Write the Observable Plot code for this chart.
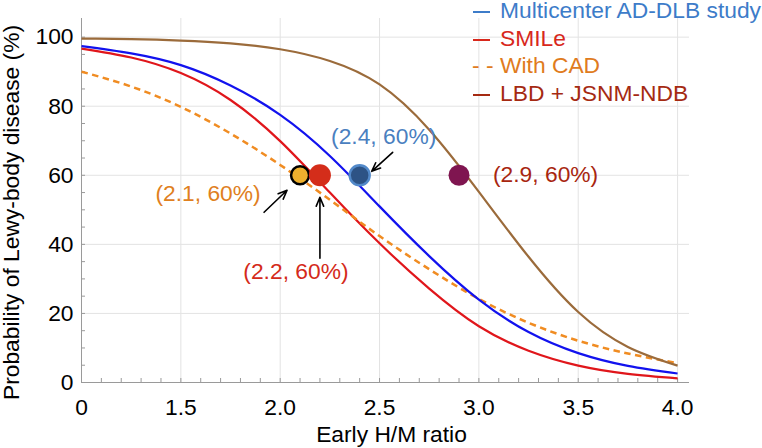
<!DOCTYPE html>
<html>
<head>
<meta charset="utf-8">
<script src="https://cdn.jsdelivr.net/npm/d3@7"></script>
<script src="https://cdn.jsdelivr.net/npm/@observablehq/plot@0.6"></script>
<style>
  html, body { margin: 0; padding: 0; background: #fff; }
  #chart { position: relative; width: 762px; height: 448px; font-family: "Liberation Sans", Arial, Helvetica, sans-serif; }
  #legend { position: absolute; left: 472px; top: -3px; font-size: 22.8px; line-height: 27.6px; white-space: nowrap; }
  #legend .mk { display: inline-block; width: 28px; }
  #legend .ln { display: inline-block; width: 17px; height: 2px; margin-left: 1px; vertical-align: middle; }
</style>
</head>
<body>
<div id="chart"></div>
<script>
// Early H/M ratio at which each curve is sampled (1.0 is shown as "0" on the broken axis)
const hmRatio      = [1.0, 1.25, 1.5, 1.75, 2.0, 2.25, 2.5, 2.75, 3.0, 3.25, 3.5, 3.75, 4.0];
// Probability of Lewy-body disease (%) for each study
const multicenter  = [97.4, 95.3, 91.9, 86.0, 77.5, 65.6, 51.0, 36.6, 24.0, 14.6, 8.5, 4.8, 2.6];
const smile        = [96.7, 94.1, 89.6, 81.8, 69.9, 55.0, 40.3, 27.2, 16.3, 9.2, 4.9, 2.5, 1.2];
const withCad      = [90.0, 85.7, 79.8, 72.1, 63.0, 52.9, 42.4, 32.8, 24.2, 17.3, 12.1, 8.4, 5.6];
const lbdJsnm      = [99.6, 99.4, 99.0, 98.2, 96.5, 93.1, 86.3, 73.2, 55.2, 36.4, 20.4, 10.3, 4.9];

// Cut-off points marked on the curves
const cutoffStudy       = ["With CAD", "SMILe", "Multicenter AD-DLB study", "LBD + JSNM-NDB"];
const cutoffRatio       = [2.1, 2.2, 2.4, 2.9];
const cutoffProbability = [60, 60, 60, 60];

// Axis ticks
const xTickValues = [1, 1.5, 2, 2.5, 3, 3.5, 4];
const xTickLabels = ["0", "1.5", "2.0", "2.5", "3.0", "3.5", "4.0"];
const yTickValues = [0, 20, 40, 60, 80, 100];

// Layout
const W = 762, H = 448;
const margin = {top: 18, right: 73, bottom: 66, left: 81};
const xDomain = [1, 4.06], yDomain = [0, 105.4];
const pxX = (W - margin.left - margin.right) / (xDomain[1] - xDomain[0]);
const pxY = (H - margin.top - margin.bottom) / (yDomain[1] - yDomain[0]);
const FONT = 22.8;

const styles = {
  "Multicenter AD-DLB study": {line: "#1212ee", legend: "#3d7cc9", label: "#4a7fbf", width: 2.2,
    dot: {r: 10, fill: "#2d5385", stroke: "#5289c9", strokeWidth: 2.5},
    label_dx: 24, label_dy: -39, anchor: "middle", arrow: [33, -23, 12, -4]},
  "SMILe": {line: "#e0161b", legend: "#d8281c", label: "#d42a1a", width: 2.2,
    dot: {r: 11, fill: "#d42d1a", stroke: "none", strokeWidth: 0},
    label_dx: -24, label_dy: 96, anchor: "middle", arrow: [0, 83, 0, 22]},
  "With CAD": {line: "#f08c22", legend: "#e07b20", label: "#e0801e", dash: "6.5,4.5", width: 2.5,
    dot: {r: 9, fill: "#eeb02e", stroke: "#000", strokeWidth: 2.5},
    label_dx: -92, label_dy: 18, anchor: "middle", arrow: [-36, 37, -13, 15]},
  "LBD + JSNM-NDB": {line: "#9b6b3b", legend: "#a52a12", label: "#a8260f", width: 2.2,
    dot: {r: 10.5, fill: "#7f1550", stroke: "none", strokeWidth: 0},
    label_dx: 34, label_dy: -1, anchor: "start", arrow: null}
};

const curves = [
  ["SMILe", smile],
  ["With CAD", withCad],
  ["Multicenter AD-DLB study", multicenter],
  ["LBD + JSNM-NDB", lbdJsnm]
];

const cutoffs = cutoffStudy.map((s, i) => ({study: s, x: cutoffRatio[i], y: cutoffProbability[i],
  label: `(${cutoffRatio[i]}, ${cutoffProbability[i]}%)`}));

const xMinor = d3.range(11, 41).map(d => d / 10);
const yMinor = d3.range(1, 21).map(d => d * 5);

const marks = [];
// grid
marks.push(Plot.ruleX(xTickValues.slice(1), {stroke: "#e3e3e3", strokeWidth: 1}));
marks.push(Plot.ruleY(yTickValues.slice(1), {stroke: "#e3e3e3", strokeWidth: 1}));
// axis lines and inward minor ticks
marks.push(Plot.ruleX([1], {stroke: "#9a9a9a"}));
marks.push(Plot.ruleY([0], {stroke: "#9a9a9a"}));
marks.push(Plot.ruleX(xMinor, {y1: 0, y2: 4 / pxY, stroke: "#9a9a9a"}));
marks.push(Plot.ruleY(yMinor, {x1: 1, x2: 1 + 4 / pxX, stroke: "#9a9a9a"}));
// tick labels
marks.push(Plot.axisX({ticks: xTickValues, tickFormat: d => xTickLabels[xTickValues.indexOf(d)],
  tickSize: 0, tickPadding: 16, label: null, fontSize: FONT}));
marks.push(Plot.axisY({ticks: yTickValues, tickFormat: d => String(d),
  tickSize: 0, tickPadding: 8, label: null, fontSize: FONT}));
// axis titles
marks.push(Plot.text(["Early H/M ratio"], {text: d => d, frameAnchor: "bottom", textAnchor: "middle",
  lineAnchor: "middle", dx: 6, dy: 52, fontSize: FONT, fill: "#000"}));
marks.push(Plot.text(["Probability of Lewy-body disease (%)"], {text: d => d, frameAnchor: "left",
  textAnchor: "middle", lineAnchor: "middle", rotate: -90, dx: -70, dy: 12, fontSize: FONT, fill: "#000"}));

// curves
for (const [name, values] of curves) {
  const st = styles[name];
  marks.push(Plot.line(hmRatio.map((x, i) => ({x, y: values[i]})), {
    x: "x", y: "y", stroke: st.line, strokeWidth: st.width, curve: "natural",
    strokeDasharray: st.dash || null, strokeLinecap: "butt"
  }));
}

// arrows pointing at the cut-offs
for (const c of cutoffs) {
  const a = styles[c.study].arrow;
  if (!a) continue;
  marks.push(Plot.arrow([c], {
    x1: d => d.x + a[0] / pxX, y1: d => d.y - a[1] / pxY,
    x2: d => d.x + a[2] / pxX, y2: d => d.y - a[3] / pxY,
    stroke: "#000", strokeWidth: 1.6, headLength: 9, headAngle: 45
  }));
}

// cut-off dots
for (const c of cutoffs) {
  const d = styles[c.study].dot;
  marks.push(Plot.dot([c], {x: "x", y: "y", r: d.r, fill: d.fill, stroke: d.stroke, strokeWidth: d.strokeWidth}));
}

// cut-off labels
for (const c of cutoffs) {
  const st = styles[c.study];
  marks.push(Plot.text([c], {x: "x", y: "y", text: "label", dx: st.label_dx, dy: st.label_dy,
    textAnchor: st.anchor, lineAnchor: "middle", fill: st.label, fontSize: FONT}));
}

const chart = Plot.plot({
  width: W, height: H,
  marginTop: margin.top, marginRight: margin.right, marginBottom: margin.bottom, marginLeft: margin.left,
  x: {domain: xDomain},
  y: {domain: yDomain},
  style: {fontFamily: '"Liberation Sans", Arial, Helvetica, sans-serif', fontSize: FONT + "px", color: "#000", background: "#fff", overflow: "visible"},
  marks
});

const root = document.getElementById("chart");
root.appendChild(chart);

// legend
const legendOrder = ["Multicenter AD-DLB study", "SMILe", "With CAD", "LBD + JSNM-NDB"];
const legend = document.createElement("div");
legend.id = "legend";
for (const name of legendOrder) {
  const st = styles[name];
  const row = document.createElement("div");
  row.style.color = st.legend;
  const mk = document.createElement("span");
  mk.className = "mk";
  if (st.dash) {
    mk.textContent = "- -";
  } else {
    const ln = document.createElement("span");
    ln.className = "ln";
    ln.style.background = st.legend;
    mk.appendChild(ln);
  }
  row.appendChild(mk);
  row.appendChild(document.createTextNode(name));
  legend.appendChild(row);
}
root.appendChild(legend);
</script>
</body>
</html>
